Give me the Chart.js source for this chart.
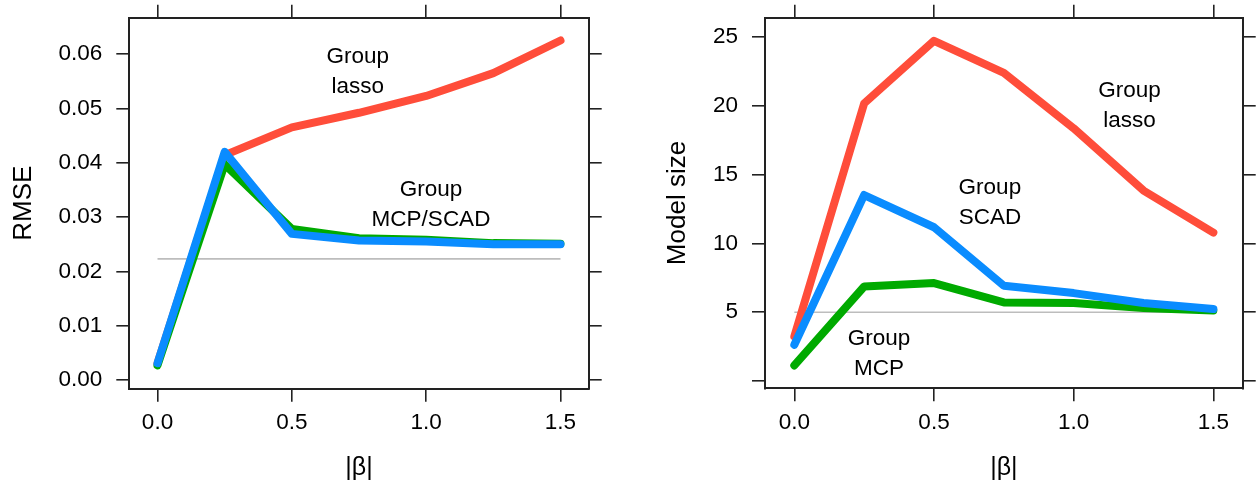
<!DOCTYPE html>
<html>
<head>
<meta charset="utf-8">
<script src="https://cdn.jsdelivr.net/npm/chart.js@4.4.1/dist/chart.umd.min.js"></script>
<style>
  html, body { margin: 0; padding: 0; background: #ffffff; }
  #wrap { position: relative; width: 1256px; height: 486px; overflow: hidden; }
  .pane { position: absolute; top: 0; width: 628px; height: 486px; }
  #p1 { left: 0; }
  #p2 { left: 628px; }
</style>
</head>
<body>
<div id="wrap">
  <div class="pane" id="p1"><canvas id="c1" width="628" height="486"></canvas></div>
  <div class="pane" id="p2"><canvas id="c2" width="628" height="486"></canvas></div>
</div>
<script>
// ---------- data ----------
const betaValues = [0, 0.25, 0.5, 0.75, 1.0, 1.25, 1.5];
const xTickValues = [0, 0.5, 1.0, 1.5];

const rmseLasso = [0.0031, 0.0414, 0.0465, 0.0492, 0.0523, 0.0565, 0.0625];
const rmseMCP   = [0.0027, 0.0397, 0.0278, 0.0261, 0.0258, 0.0252, 0.0251];
const rmseSCAD  = [0.0031, 0.0420, 0.0269, 0.0257, 0.0255, 0.0250, 0.0250];
const rmseOracle = 0.0223;
const rmseTickValues = [0, 0.01, 0.02, 0.03, 0.04, 0.05, 0.06];

const sizeLasso = [3.25, 20.16, 24.7, 22.38, 18.35, 13.83, 10.78];
const sizeMCP   = [1.14, 6.87, 7.12, 5.71, 5.67, 5.30, 5.13];
const sizeSCAD  = [2.64, 13.51, 11.17, 6.92, 6.39, 5.67, 5.23];
const sizeOracle = 5;
const sizeTickValues = [0, 5, 10, 15, 20, 25];

const labelsRMSE = [
  { lines: ['Group', 'lasso'], x: 0.745, y: 0.0568 },
  { lines: ['Group', 'MCP/SCAD'], x: 1.018, y: 0.0322 }
];
const labelsSize = [
  { lines: ['Group', 'lasso'], x: 1.20, y: 19.96 },
  { lines: ['Group', 'SCAD'], x: 0.70, y: 12.97 },
  { lines: ['Group', 'MCP'], x: 0.303, y: 1.96 }
];

// ---------- styles ----------
const FONT = "'Liberation Sans', Arial, Helvetica, sans-serif";
const RED = '#FF4D3A';
const GREEN = '#00AA00';
const BLUE = '#0A8CFF';
const GRAY = '#BDBDBD';
const AXIS = '#222222';

function pts(xs, ys) { return xs.map((x, i) => ({ x: x, y: ys[i] })); }

function lineDS(label, data, color, order) {
  return {
    label: label, data: data, borderColor: color, backgroundColor: color,
    borderWidth: 8, borderCapStyle: 'round', borderJoinStyle: 'round',
    pointRadius: 0, fill: false, tension: 0, order: order
  };
}

const textLabelPlugin = {
  id: 'textLabels',
  afterDatasetsDraw(chart, args, opts) {
    const ctx = chart.ctx;
    ctx.save();
    ctx.fillStyle = '#000';
    ctx.font = opts.size + 'px ' + FONT;
    ctx.textAlign = 'center';
    ctx.textBaseline = 'middle';
    const xs = chart.scales.x, ys = chart.scales.y;
    (opts.items || []).forEach(it => {
      const px = xs.getPixelForValue(it.x);
      const py = ys.getPixelForValue(it.y);
      const n = it.lines.length;
      it.lines.forEach((ln, i) => {
        ctx.fillText(ln, px, py + (i - (n - 1) / 2) * opts.lineGap);
      });
    });
    ctx.restore();
  }
};

function makeChart(canvasId, cfg) {
  const fixedW = (w) => (scale) => { scale.width = w; scale.paddingTop = 0; scale.paddingBottom = 0; };
  const fixedH = (h) => (scale) => { scale.height = h; scale.paddingLeft = 0; scale.paddingRight = 0; };
  const grid = { display: true, drawOnChartArea: false, drawTicks: true, tickLength: 13, color: AXIS, lineWidth: 1.6 };
  const border = { display: true, color: AXIS, width: 2 };
  const tickFont = { family: FONT, size: 22.5 };
  return new Chart(document.getElementById(canvasId), {
    type: 'line',
    data: { datasets: cfg.datasets },
    options: {
      responsive: false, animation: false, devicePixelRatio: 1,
      layout: { padding: 0 },
      plugins: {
        legend: { display: false }, tooltip: { enabled: false },
        textLabels: { items: cfg.labels, size: 22.5, lineGap: 30 }
      },
      scales: {
        x: {
          type: 'linear', position: 'bottom', min: -0.105, max: 1.605,
          afterBuildTicks: (s) => { s.ticks = xTickValues.map(v => ({ value: v })); },
          afterFit: fixedH(cfg.bottomH),
          grid: grid, border: border,
          ticks: { color: '#000', font: tickFont, padding: 8, maxRotation: 0,
                   callback: (v) => Number(v).toFixed(1) },
          title: { display: true, text: '|β|', color: '#000', font: { family: FONT, size: 25 },
                   padding: { top: 3, bottom: 3 } }
        },
        x2: {
          type: 'linear', position: 'top', min: -0.105, max: 1.605,
          afterBuildTicks: (s) => { s.ticks = xTickValues.map(v => ({ value: v })); },
          afterFit: fixedH(cfg.topH),
          grid: grid, border: border,
          ticks: { display: false }
        },
        y: {
          type: 'linear', position: 'left', min: cfg.ymin, max: cfg.ymax,
          afterBuildTicks: (s) => { s.ticks = cfg.yTicks.map(v => ({ value: v })); },
          afterFit: fixedW(cfg.leftW),
          grid: grid, border: border,
          ticks: { color: '#000', font: tickFont, padding: 14, callback: cfg.yFmt },
          title: { display: true, text: cfg.yTitle, color: '#000', font: { family: FONT, size: 26 },
                   padding: { top: cfg.yTitlePad, bottom: 0 } }
        },
        y2: {
          type: 'linear', position: 'right', min: cfg.ymin, max: cfg.ymax,
          afterBuildTicks: (s) => { s.ticks = cfg.yTicks.map(v => ({ value: v })); },
          afterFit: fixedW(cfg.rightW),
          grid: grid, border: border,
          ticks: { display: false }
        }
      }
    },
    plugins: [textLabelPlugin]
  });
}

makeChart('c1', {
  datasets: [
    { label: 'oracle', data: [{ x: 0, y: rmseOracle }, { x: 1.5, y: rmseOracle }],
      borderColor: GRAY, borderWidth: 1.6, pointRadius: 0, fill: false, order: 10 },
    lineDS('Group lasso', pts(betaValues, rmseLasso), RED, 3),
    lineDS('Group MCP', pts(betaValues, rmseMCP), GREEN, 2),
    lineDS('Group SCAD', pts(betaValues, rmseSCAD), BLUE, 1)
  ],
  labels: labelsRMSE,
  ymin: -0.0016, ymax: 0.0667, yTicks: rmseTickValues,
  yFmt: (v) => Number(v).toFixed(2),
  yTitle: 'RMSE', yTitlePad: 8,
  leftW: 129.3, rightW: 39.3, topH: 17.7, bottomH: 97.3
});

makeChart('c2', {
  datasets: [
    { label: 'oracle', data: [{ x: 0, y: sizeOracle }, { x: 1.5, y: sizeOracle }],
      borderColor: GRAY, borderWidth: 1.6, pointRadius: 0, fill: false, order: 10 },
    lineDS('Group lasso', pts(betaValues, sizeLasso), RED, 3),
    lineDS('Group MCP', pts(betaValues, sizeMCP), GREEN, 2),
    lineDS('Group SCAD', pts(betaValues, sizeSCAD), BLUE, 1)
  ],
  labels: labelsSize,
  ymin: -0.52, ymax: 26.38, yTicks: sizeTickValues,
  yFmt: (v) => (v === 0 ? '' : String(v)),
  yTitle: 'Model size', yTitlePad: 34,
  leftW: 137, rightW: 13.3, topH: 17.7, bottomH: 97.7
});
</script>
</body>
</html>
